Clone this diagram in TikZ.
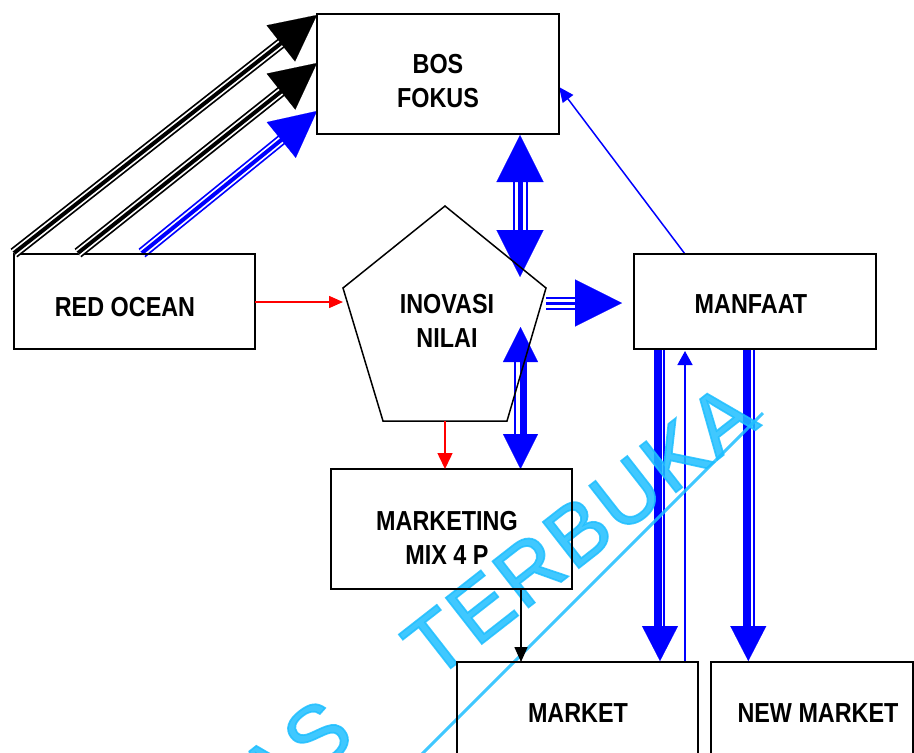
\documentclass[tikz,border=0pt]{standalone}
\usepackage{fontspec}
\setmainfont{Liberation Sans}
\newfontfamily\narrowfont[FakeStretch=0.85]{Liberation Sans}
\newfontfamily\wmfont[LetterSpace=3,FakeBold=2]{Liberation Sans}
\usetikzlibrary{arrows.meta,calc}
\definecolor{wmcyan}{RGB}{30,190,255}
\definecolor{pureblue}{RGB}{0,0,255}
\definecolor{purered}{RGB}{255,0,0}
\pgfdeclarelayer{bg}
\pgfsetlayers{bg,main}
\begin{document}
\begin{tikzpicture}[x=1pt,y=-1pt,
  box/.style={draw=black, line width=2pt, inner sep=0pt},
  lbl/.style={font=\narrowfont\bfseries\fontsize{27.5}{34}\selectfont, align=center, inner sep=0pt},
  tri/.style n args={4}{draw=#1, line width=#2, postaction={draw=white, line width=#3}, postaction={draw=#1, line width=#4}},
  thin/.style={line width=1.5pt},
  wm/.style={font=\wmfont\fontsize{85}{85}\selectfont, text=wmcyan, opacity=0.85, inner sep=0pt}
]
\useasboundingbox (0,0) rectangle (914,753);
\clip (0,0) rectangle (914,753);

% ---- boxes ----
\node[box, minimum width=241pt, minimum height=95pt] (red) at (134.5,301.5) {};
\node[box, minimum width=242pt, minimum height=120pt] (bos) at (438,74) {};
\node[box, minimum width=242pt, minimum height=95pt] (man) at (755,301.5) {};
\node[box, minimum width=241pt, minimum height=120pt] (mkt) at (451.5,529) {};
\node[box, minimum width=241pt, minimum height=120pt] (market) at (577.5,722) {};
\node[box, minimum width=202pt, minimum height=120pt] (newm) at (812,722) {};

% ---- pentagon ----
\coordinate (p1) at (445,206);
\coordinate (p2) at (546,288);
\coordinate (p3) at (507,421);
\coordinate (p4) at (383,421);
\coordinate (p5) at (343,288);
\draw[thin, line join=miter] (p1) -- (p2) -- (p3) -- (p4) -- (p5) -- cycle;

% ---- labels ----
\node[lbl] (redT) at (125,307) {RED OCEAN};
\node[lbl] (bosT) at (438,81) {BOS\\FOKUS};
\node[lbl] (manT) at (751,304.5) {MANFAAT};
\node[lbl] (inoT) at (447,321) {INOVASI\\NILAI};
\node[lbl] (mktT) at (447,537.5) {MARKETING\\MIX 4 P};
\node[lbl] (marketT) at (578,713) {MARKET};
\node[lbl] (newT) at (818,713) {NEW MARKET};

% ---- connector end points ----
\coordinate (s1) at (14,253);  \coordinate (t1) at (317,15);
\coordinate (s2) at (78,253);  \coordinate (t2) at (317,63);
\coordinate (s3) at (142,253); \coordinate (t3) at (317,111);
\coordinate (v1) at (520,135); \coordinate (v2) at (520,277);
\coordinate (h1) at (546,303); \coordinate (h2) at (622,303);
\coordinate (v3) at (520.5,327); \coordinate (v4) at (520.5,469);
\coordinate (m1) at (660,349); \coordinate (m2) at (660,661);
\coordinate (n1) at (748.3,349); \coordinate (n2) at (748.3,661);
\coordinate (u1) at (685,662); \coordinate (u2) at (685,351);
\coordinate (b1) at (685,254); \coordinate (b2) at (559,87);
\coordinate (r1) at (255,302); \coordinate (r2) at (343,302);
\coordinate (r3) at (445,421); \coordinate (r4) at (445,469);
\coordinate (k1) at (521,589); \coordinate (k2) at (521,662);

% ---- black triple arrows (RED OCEAN -> BOS FOKUS) ----
\draw[tri={black}{11pt}{7.5pt}{4pt}, shorten >=44pt] (s1) -- (t1);
\draw[black, line width=0.1pt, -{Triangle[length=46pt,width=46pt]}] (s1) -- (t1);
\draw[tri={black}{11pt}{7.5pt}{4pt}, shorten >=44pt] (s2) -- (t2);
\draw[black, line width=0.1pt, -{Triangle[length=46pt,width=46pt]}] (s2) -- (t2);

\begin{pgfonlayer}{bg}
% blue triple arrow
\draw[tri={pureblue}{11pt}{7.5pt}{4pt}, shorten >=44pt] (s3) -- (t3);
\draw[pureblue, line width=0.1pt, -{Triangle[length=46pt,width=46pt]}] (s3) -- (t3);
% BOS <-> INOVASI
\draw[tri={pureblue}{15pt}{11pt}{5pt}, shorten >=45pt, shorten <=45pt] (v1) -- (v2);
\draw[pureblue, line width=0.1pt, {Triangle[length=47pt,width=47pt]}-{Triangle[length=47pt,width=47pt]}] (v1) -- (v2);
% INOVASI -> MANFAAT
\draw[tri={pureblue}{13pt}{9pt}{3pt}, shorten >=45pt] (h1) -- (h2);
\draw[pureblue, line width=0.1pt, -{Triangle[length=47pt,width=47pt]}] (h1) -- (h2);
% INOVASI <-> MARKETING
\draw[pureblue, line width=2.5pt, shorten <=33pt, shorten >=33pt] ([xshift=-5.5pt]v3) -- ([xshift=-5.5pt]v4);
\draw[pureblue, line width=7pt, shorten <=33pt, shorten >=33pt] ([xshift=2.5pt]v3) -- ([xshift=2.5pt]v4);
\draw[pureblue, line width=0.1pt, {Triangle[length=35pt,width=35pt]}-{Triangle[length=35pt,width=35pt]}] (v3) -- (v4);
% MANFAAT -> MARKET
\draw[pureblue, line width=7.5pt, shorten >=33pt] ([xshift=-2pt]m1) -- ([xshift=-2pt]m2);
\draw[pureblue, line width=2pt, shorten >=33pt] ([xshift=4.3pt]m1) -- ([xshift=4.3pt]m2);
\draw[pureblue, line width=0.1pt, -{Triangle[length=35pt,width=36pt]}] (m1) -- (m2);
% MANFAAT -> NEW MARKET
\draw[pureblue, line width=8pt, shorten >=33pt] ([xshift=-1.6pt]n1) -- ([xshift=-1.6pt]n2);
\draw[pureblue, line width=2pt, shorten >=33pt] ([xshift=5.4pt]n1) -- ([xshift=5.4pt]n2);
\draw[pureblue, line width=0.1pt, -{Triangle[length=35pt,width=36pt]}] (n1) -- (n2);
% MARKET -> MANFAAT
\draw[pureblue, thin, -{Triangle[length=14pt,width=15pt]}] (u1) -- (u2);
% MANFAAT -> BOS
\draw[pureblue, thin, -{Triangle[length=15pt,width=13pt]}] (b1) -- (b2);

% watermark
\node[wm, rotate=38, anchor=base east] (wmT) at (762,425) {UNIVERSITAS\hspace{70pt} TERBUKA};
\coordinate (w1) at (763,413); \coordinate (w2) at (363,813);
\draw[wmcyan, opacity=0.85, line width=3pt] (w1) -- (w2);
\end{pgfonlayer}

% red arrows
\draw[purered, thin, -{Triangle[length=14pt,width=12pt]}] (r1) -- (r2);
\draw[purered, thin, -{Triangle[length=16pt,width=15pt]}] (r3) -- (r4);
% MARKETING -> MARKET
\draw[black, thin, -{Triangle[length=15pt,width=13pt]}] (k1) -- (k2);
\end{tikzpicture}
\end{document}
